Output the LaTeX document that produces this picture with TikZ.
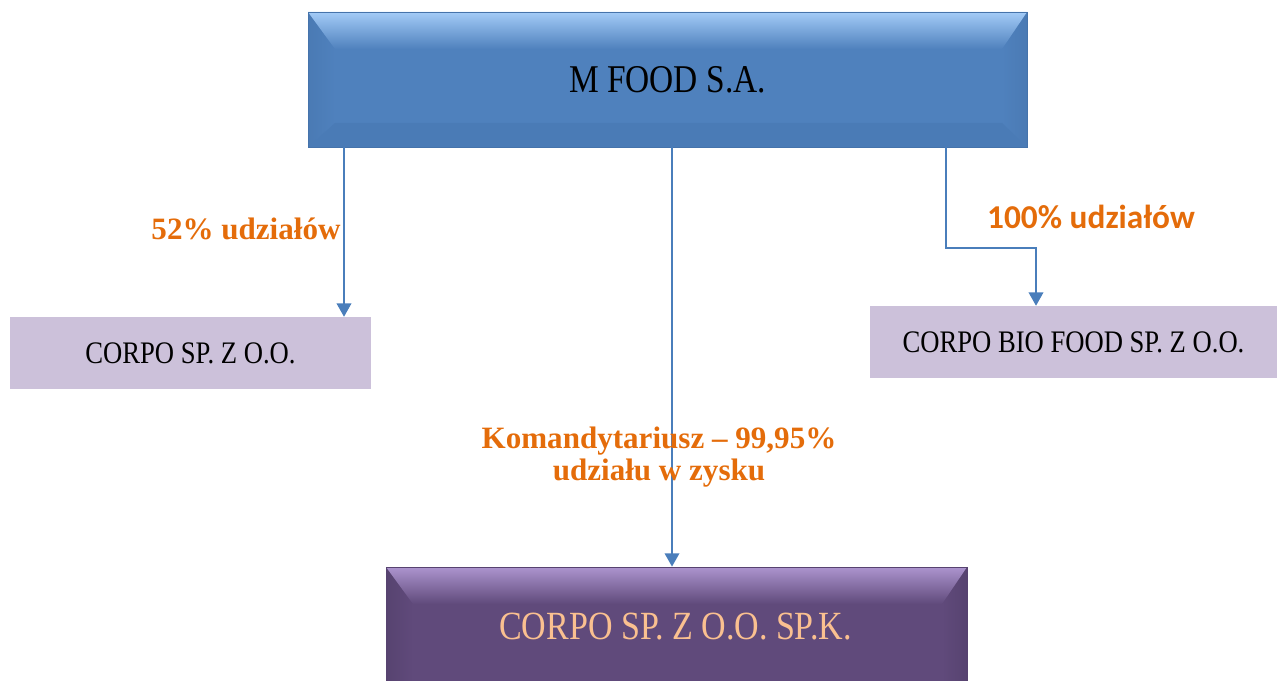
\documentclass[tikz,border=0pt]{standalone}
\usepackage{fontspec}
\setmainfont{Liberation Serif}[FakeStretch=0.85]
\newfontfamily\lblfont{Liberation Serif}
\newfontfamily\calfont{Carlito}
\usetikzlibrary{arrows.meta,calc}
\definecolor{mblue}{HTML}{4F81BD}
\definecolor{mbluelight}{HTML}{A3CBF7}
\definecolor{mbluedark}{HTML}{4A7BB6}
\definecolor{mblueborder}{HTML}{4573AB}
\definecolor{mblueside}{HTML}{4A7AB4}
\definecolor{mpurple}{HTML}{604A7B}
\definecolor{mpurplelight}{HTML}{AC94CE}
\definecolor{mpurpleside}{HTML}{574370}
\definecolor{lilac}{HTML}{CCC1DA}
\definecolor{peach}{HTML}{FAC090}
\definecolor{lblorange}{HTML}{E46C0A}
\definecolor{linkblue}{HTML}{4A7EBB}
\tikzset{
  x=0.75pt, y=-0.75pt,
  bevelbox/.style n args={4}{rectangle, inner sep=0pt, fill=#1,
    path picture={
      \coordinate (pnw) at (path picture bounding box.north west);
      \coordinate (pne) at (path picture bounding box.north east);
      \coordinate (psw) at (path picture bounding box.south west);
      \coordinate (pse) at (path picture bounding box.south east);
      \shade[left color=#3, right color=#1] (pnw) -- ($(pnw)+(27,37)$) -- ($(psw)+(27,-24)$) -- (psw) -- cycle;
      \shade[right color=#3, left color=#1] (pne) -- ($(pne)+(-25,37)$) -- ($(pse)+(-25,-24)$) -- (pse) -- cycle;
      \fill[#4] (psw) -- ($(psw)+(27,-24)$) -- ($(pse)+(-25,-24)$) -- (pse) -- cycle;
      \shade[top color=#2, bottom color=#1] (pnw) -- (pne) -- ($(pne)+(-25,37)$) -- ($(pnw)+(27,37)$) -- cycle;
    }},
  smallbox/.style={rectangle, inner sep=0pt, fill=lilac, font=\fontsize{23.5}{28}\selectfont},
  lbl/.style={text=lblorange, font=\lblfont\bfseries\fontsize{23.3}{24}\selectfont, align=center, inner sep=0pt},
  arr/.style={draw=linkblue, line width=1.1pt, -{Triangle[width=11pt,length=10pt]}},
}
\begin{document}
\begin{tikzpicture}
\useasboundingbox (0,0) rectangle (1277,681);
% top box
\node[bevelbox={mblue}{mbluelight}{mblueside}{mbluedark}, draw=mblueborder, line width=0.6pt,
      minimum width=719*0.75pt, minimum height=135*0.75pt,
      font=\fontsize{29.5}{34}\selectfont] (mfood) at (667.5,79.5) {M FOOD S.A.};
% bottom box
\node[bevelbox={mpurple}{mpurplelight}{mpurpleside}{mpurpleside}, draw=mpurpleside, line width=0.6pt,
      minimum width=581*0.75pt, minimum height=140*0.75pt] (spk) at (676.5,637) {};
\node[text=peach, font=\fontsize{30}{34}\selectfont] (spktext) at (675.5,627) {CORPO SP. Z O.O. SP.K.};
% small boxes
\node[smallbox, minimum width=361*0.75pt, minimum height=72*0.75pt] (lcorp) at (190.5,353) {CORPO SP. Z O.O.};
\node[smallbox, minimum width=407*0.75pt, minimum height=72*0.75pt] (rcorp) at (1073.5,342) {CORPO BIO FOOD SP. Z O.O.};
% connectors
\coordinate (l1) at (344,0);
\coordinate (c1) at (672,0);
\coordinate (r1) at (946,248);
\coordinate (r2) at (1036,248);
\draw[arr] (l1 |- mfood.south) -- (l1 |- lcorp.north);
\draw[arr] (c1 |- mfood.south) -- (c1 |- spk.north);
\draw[arr] (r1 |- mfood.south) -- (r1) -- (r2) -- (r2 |- rcorp.north);
% labels
\node[lbl] (lbl52) at (246,229) {52\% udziałów};
\node[lbl, font=\calfont\bfseries\fontsize{25}{28}\selectfont] (lbl100) at (1091,217) {100\% udziałów};
\node[lbl] (lblkom) at (659,457) {Komandytariusz – 99,95\%\\udziału w zysku};
\end{tikzpicture}
\end{document}
